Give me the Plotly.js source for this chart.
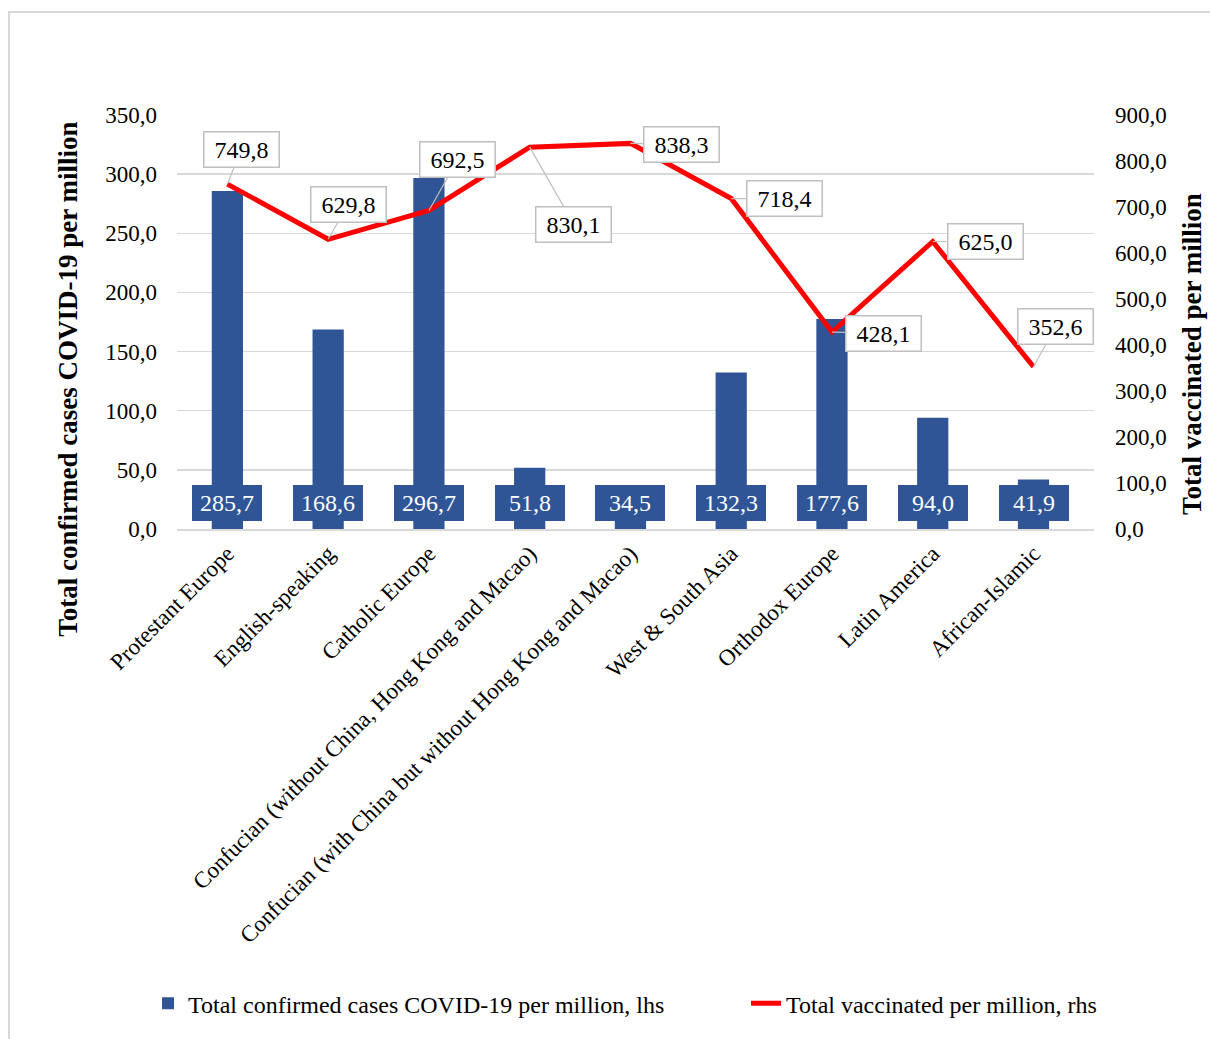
<!DOCTYPE html>
<html>
<head>
<meta charset="utf-8">
<script src="https://cdn.plot.ly/plotly-3.0.1.min.js"></script>
<style>
  html, body { margin: 0; padding: 0; background: #fff; overflow: hidden; }
  #wrap { position: relative; width: 1210px; height: 1039px; }
  #chart { width: 1210px; height: 1039px; }
  #frame { position: absolute; left: 8px; top: 11px; width: 1300px; height: 1100px;
           border: 2px solid #D9D9D9; box-sizing: border-box; pointer-events: none; }
</style>
</head>
<body>
<div id="wrap">
  <div id="chart"></div>
  <div id="frame"></div>
</div>
<script>
const categories = [
  "Protestant Europe",
  "English-speaking",
  "Catholic Europe",
  "Confucian (without China, Hong Kong and Macao)",
  "Confucian (with China but without Hong Kong and Macao)",
  "West & South Asia",
  "Orthodox Europe",
  "Latin America",
  "African-Islamic"
];
const casesPerMillion = [285.7, 168.6, 296.7, 51.8, 34.5, 132.3, 177.6, 94.0, 41.9];
const vaccinatedPerMillion = [749.8, 629.8, 692.5, 830.1, 838.3, 718.4, 428.1, 625.0, 352.6];
const seriesNames = [
  "Total confirmed cases COVID-19 per million, lhs",
  "Total vaccinated per million, rhs"
];
const leftTitle = "Total confirmed cases COVID-19 per million";
const rightTitle = "Total vaccinated per million";

// callout offsets (pixels) for line labels
const calloutOffsets = [[14,-35],[20,-35],[29,-51],[44,77],[51,1],[53,0],[52,1],[53,0],[22,-40]];

const FONT = "Liberation Serif, Times New Roman, serif";
const BLUE = "#2F5597";
const fmt = v => v.toFixed(1).replace(".", ",");

const traces = [
  {
    type: "bar",
    x: categories,
    y: casesPerMillion,
    name: seriesNames[0],
    marker: { color: BLUE },
    width: 0.31,
    yaxis: "y",
    legend: "legend",
    hoverinfo: "skip"
  },
  {
    type: "scatter",
    mode: "lines",
    x: categories,
    y: vaccinatedPerMillion,
    name: seriesNames[1],
    line: { color: "#FF0000", width: 5 },
    yaxis: "y2",
    legend: "legend2",
    hoverinfo: "skip"
  }
];

const annotations = [];
categories.forEach((c, i) => {
  annotations.push({
    x: c, y: 0, xref: "x", yref: "y",
    text: fmt(casesPerMillion[i]),
    showarrow: false,
    yanchor: "bottom", yshift: 8,
    bgcolor: BLUE, bordercolor: BLUE, borderwidth: 0, borderpad: 0,
    width: 70, height: 36,
    font: { family: FONT, size: 24, color: "#FFFFFF" }
  });
  annotations.push({
    x: c, y: vaccinatedPerMillion[i], xref: "x", yref: "y2",
    text: fmt(vaccinatedPerMillion[i]),
    showarrow: true, arrowhead: 0, arrowwidth: 1.2, arrowcolor: "#BFBFBF",
    ax: calloutOffsets[i][0], ay: calloutOffsets[i][1],
    bgcolor: "#FFFFFF", bordercolor: "#BFBFBF", borderwidth: 1.5, borderpad: 0,
    width: 74, height: 34,
    font: { family: FONT, size: 24, color: "#000000" }
  });
});

// axis titles (placed as in the reference, offset from plot-area centre)
annotations.push({
  xref: "paper", yref: "paper", x: -0.1189, y: 0.363,
  xanchor: "center", yanchor: "middle", textangle: -90, showarrow: false,
  text: "<b>" + leftTitle + "</b>",
  font: { family: FONT, size: 27, color: "#000" }
});
annotations.push({
  xref: "paper", yref: "paper", x: 1.1069, y: 0.423,
  xanchor: "center", yanchor: "middle", textangle: -90, showarrow: false,
  text: "<b>" + rightTitle + "</b>",
  font: { family: FONT, size: 27, color: "#000" }
});

const legendFont = { family: FONT, size: 24, color: "#000" };

const layout = {
  width: 1210, height: 1039,
  margin: { l: 177, r: 116, t: 115, b: 508 },
  paper_bgcolor: "#FFFFFF",
  plot_bgcolor: "#FFFFFF",
  separators: ", ",
  font: { family: FONT, size: 23, color: "#000000" },
  showlegend: true,
  bargap: 0.69,
  xaxis: {
    type: "category",
    tickangle: -45,
    tickfont: { family: FONT, size: 23, color: "#000" },
    showgrid: false,
    showline: true, linecolor: "#D9D9D9", linewidth: 2,
    ticks: "", zeroline: false,
    automargin: false,
    fixedrange: true
  },
  yaxis: {
    range: [0, 350],
    tick0: 0, dtick: 50,
    tickformat: ".1f",
    showgrid: true, gridcolor: "#D9D9D9", gridwidth: 1.5,
    zeroline: false, showline: false,
    ticks: "",
    ticklabelstandoff: 19,
    tickfont: { family: FONT, size: 23, color: "#000" },
    automargin: false,
    fixedrange: true
  },
  yaxis2: {
    overlaying: "y", side: "right",
    range: [0, 900],
    tick0: 0, dtick: 100,
    tickformat: ".1f",
    showgrid: false, zeroline: false, showline: false,
    ticks: "",
    ticklabelstandoff: 20,
    tickfont: { family: FONT, size: 23, color: "#000" },
    automargin: false,
    fixedrange: true
  },
  legend: {
    orientation: "h",
    x: -0.0316, xanchor: "left",
    y: -1.1466, yanchor: "middle",
    font: legendFont,
    bgcolor: "rgba(0,0,0,0)"
  },
  legend2: {
    orientation: "h",
    x: 0.6205, xanchor: "left",
    y: -1.1466, yanchor: "middle",
    font: legendFont,
    bgcolor: "rgba(0,0,0,0)"
  },
  annotations: annotations
};

Plotly.newPlot("chart", traces, layout, { displayModeBar: false, staticPlot: true });
</script>
</body>
</html>
